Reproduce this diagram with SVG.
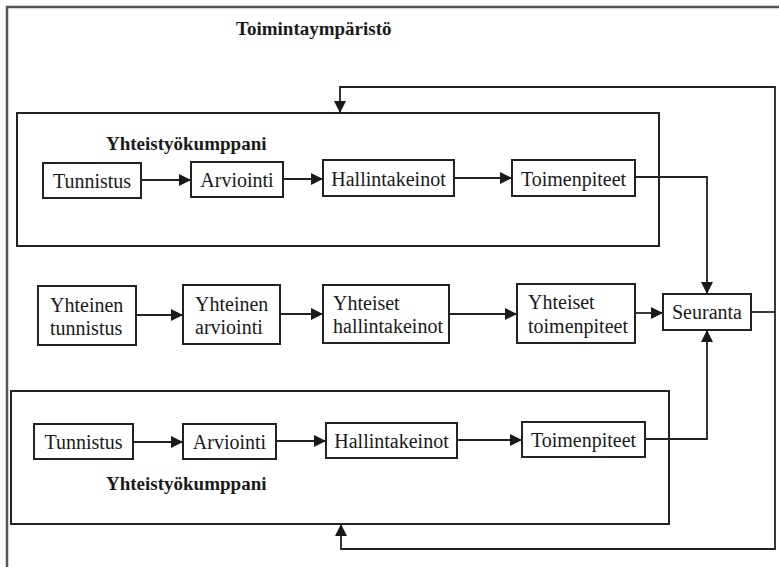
<svg xmlns="http://www.w3.org/2000/svg" width="779" height="567" viewBox="0 0 779 567">
<defs>
<style>
.frame{fill:none;stroke:#555;stroke-width:2.5}
.grp{fill:none;stroke:#222;stroke-width:2}
.box{fill:#fff;stroke:#222;stroke-width:2}
.t{font-family:'Liberation Serif','Times New Roman',Tinos,'DejaVu Serif',serif;font-size:20px;fill:#1a1a1a}
.c{text-anchor:middle}
.b{font-family:'Liberation Serif','Times New Roman',Tinos,'DejaVu Serif',serif;font-size:19px;font-weight:bold;fill:#1a1a1a}
.ln{fill:none;stroke:#222;stroke-width:1.8}
.ar{marker-end:url(#ah)}
</style>
<marker id="ah" markerUnits="userSpaceOnUse" markerWidth="12" markerHeight="12" refX="12" refY="6" orient="auto">
<path d="M0,0 L12,6 L0,12 z" fill="#1a1a1a"/>
</marker>
</defs>
<rect width="779" height="567" fill="#fff"/>
<path class="frame" d="M7,567 V7 H779"/>
<text class="b" x="236" y="35" font-family="Liberation Serif, serif">Toimintaympäristö</text>

<g id="partner-top">
<rect class="grp" x="17" y="113" width="642" height="133"/>
<text class="b" x="106" y="150">Yhteistyökumppani</text>
</g>
<g id="partner-bottom">
<rect class="grp" x="11" y="391" width="658" height="133"/>
<text class="b" x="106" y="490">Yhteistyökumppani</text>
</g>

<g id="connectors">
<path class="ln ar" d="M141,180 H191"/>
<path class="ln ar" d="M283,179 H323"/>
<path class="ln ar" d="M454,178 H512"/>
<path class="ln ar" d="M635,177 H707 V294"/>
<path class="ln ar" d="M136,315 H183"/>
<path class="ln ar" d="M280,314 H323"/>
<path class="ln ar" d="M449,314 H517"/>
<path class="ln ar" d="M635,313 H663"/>
<path class="ln" d="M751,312 H775"/>
<path class="ln ar" d="M133,442 H183"/>
<path class="ln ar" d="M276,441 H326"/>
<path class="ln ar" d="M457,440 H522"/>
<path class="ln ar" d="M645,439 H707 V330"/>
<path class="ln ar" d="M775,312 V87 H340 V113"/>
<path class="ln ar" d="M775,312 V549 H341 V524"/>
</g>

<g id="t-tunnistus"><rect class="box" x="43" y="163" width="98" height="35"/><text class="t c" x="92" y="188">Tunnistus</text></g>
<g id="t-arviointi"><rect class="box" x="191" y="162" width="92" height="35"/><text class="t c" x="237" y="187">Arviointi</text></g>
<g id="t-hallintakeinot"><rect class="box" x="323" y="160" width="131" height="36"/><text class="t c" x="388.5" y="185.5">Hallintakeinot</text></g>
<g id="t-toimenpiteet"><rect class="box" x="512" y="160" width="123" height="36"/><text class="t c" x="573.5" y="185.5">Toimenpiteet</text></g>

<g id="m-tunnistus"><rect class="box" x="38" y="286" width="98" height="59"/><text class="t" x="50" y="312">Yhteinen</text><text class="t" x="50" y="335">tunnistus</text></g>
<g id="m-arviointi"><rect class="box" x="183" y="285" width="97" height="59"/><text class="t" x="195" y="311">Yhteinen</text><text class="t" x="195" y="334">arviointi</text></g>
<g id="m-hallintakeinot"><rect class="box" x="323" y="285" width="126" height="58"/><text class="t" x="333" y="310">Yhteiset</text><text class="t" x="333" y="333">hallintakeinot</text></g>
<g id="m-toimenpiteet"><rect class="box" x="517" y="284" width="118" height="59"/><text class="t" x="528" y="309">Yhteiset</text><text class="t" x="528" y="333">toimenpiteet</text></g>
<g id="seuranta"><rect class="box" x="663" y="294" width="88" height="36"/><text class="t c" x="707" y="319">Seuranta</text></g>

<g id="b-tunnistus"><rect class="box" x="34" y="424" width="99" height="35"/><text class="t c" x="83.5" y="449">Tunnistus</text></g>
<g id="b-arviointi"><rect class="box" x="183" y="424" width="93" height="35"/><text class="t c" x="229.5" y="449">Arviointi</text></g>
<g id="b-hallintakeinot"><rect class="box" x="326" y="423" width="131" height="35"/><text class="t c" x="391.5" y="448">Hallintakeinot</text></g>
<g id="b-toimenpiteet"><rect class="box" x="522" y="422" width="123" height="35"/><text class="t c" x="583.5" y="447">Toimenpiteet</text></g>
</svg>
